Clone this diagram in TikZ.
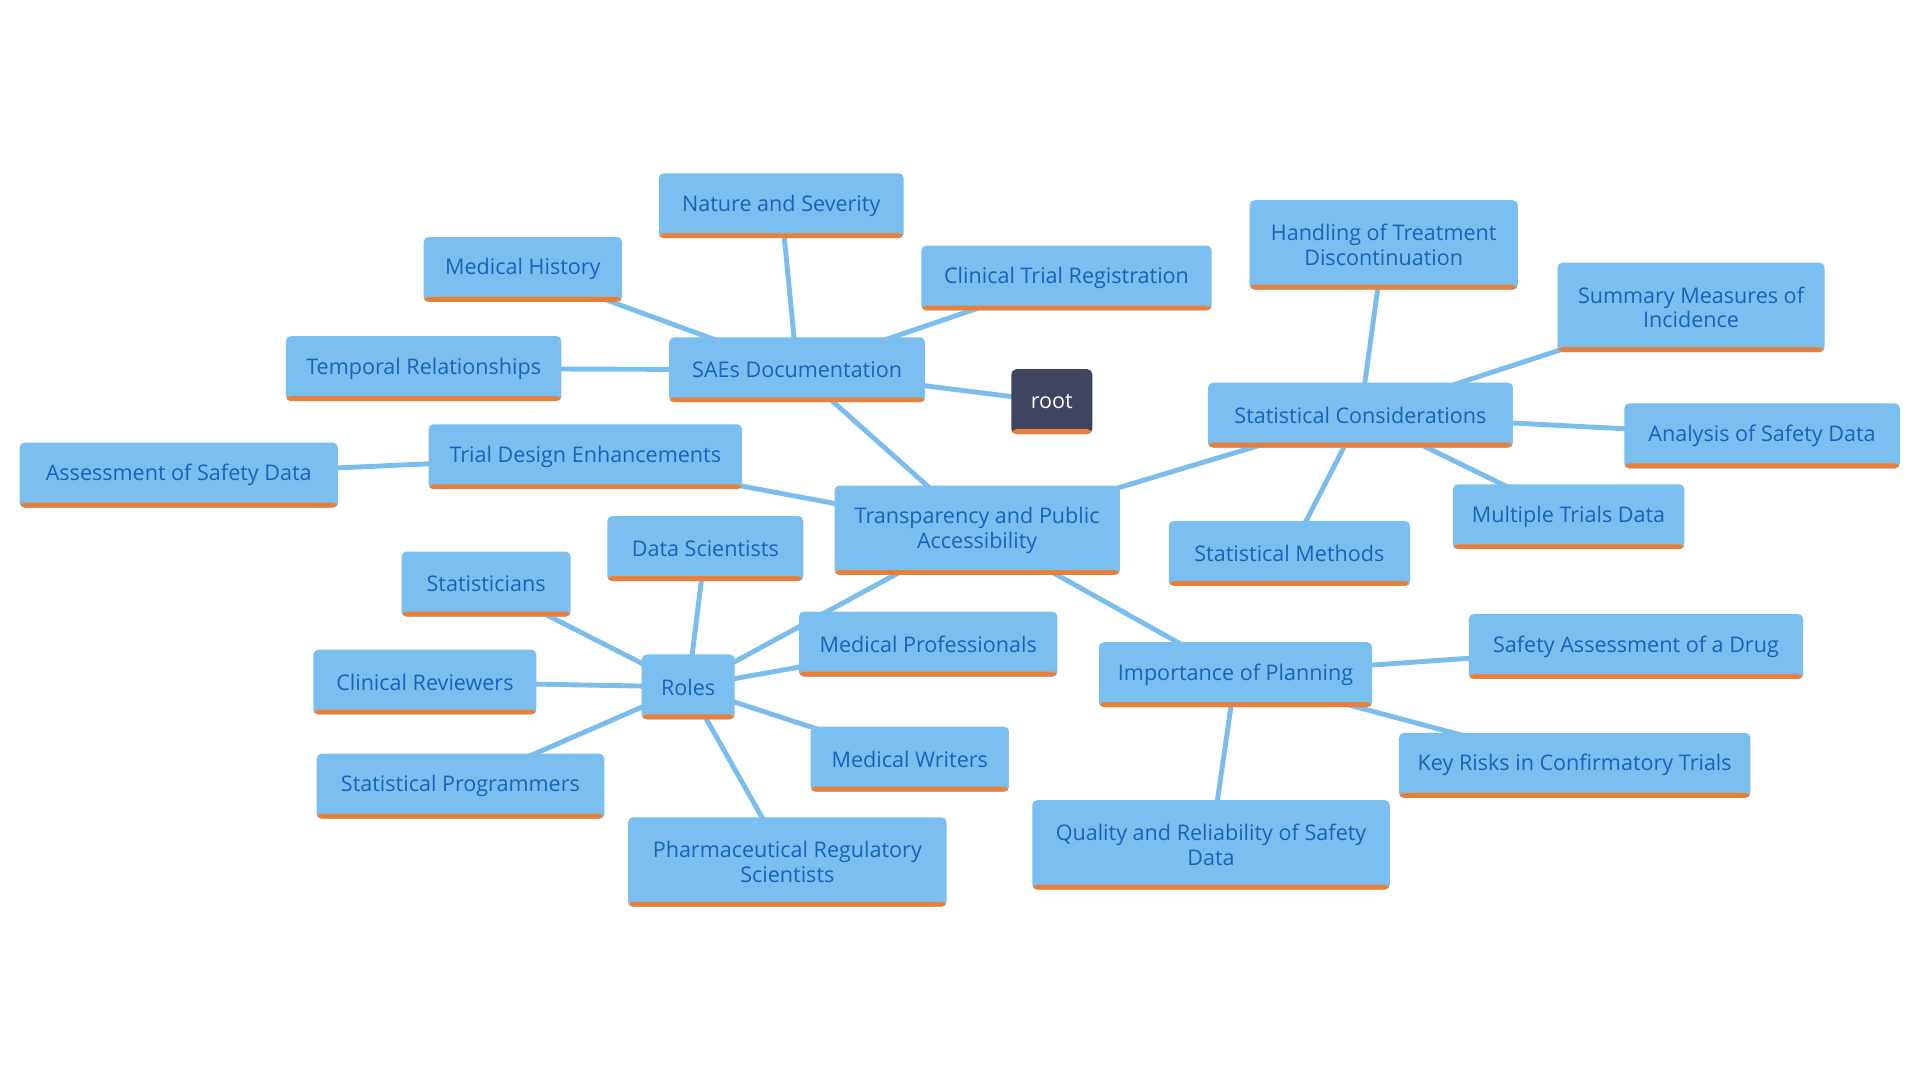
\documentclass[tikz,border=0pt]{standalone}
\usepackage{fontspec}
\setmainfont{Open Sans}
\usetikzlibrary{backgrounds}
\definecolor{boxblue}{HTML}{7BBFF0}
\definecolor{linkblue}{HTML}{7BBDEC}
\definecolor{txtblue}{HTML}{1664BC}
\definecolor{barorange}{HTML}{E8803A}
\definecolor{rootdark}{HTML}{3F4460}
\tikzset{
  box/.style={fill=boxblue, rounded corners=4pt, text=txtblue, align=center,
    font=\fontsize{17.6}{20}\selectfont, inner sep=0pt,
    path picture={\fill[barorange] (path picture bounding box.south west) rectangle ([yshift=4pt]path picture bounding box.south east);}},
  rootbox/.style={box, fill=rootdark, text=white},
  link/.style={draw=linkblue, line width=4pt},
}
\begin{document}
\begin{tikzpicture}[x=1pt,y=-1pt]
\useasboundingbox (0,0) rectangle (1568,882);
\newcommand{\bx}[7][box]{\node[#1, minimum width=#4, minimum height=#5] (#2) at (#3) {#7};}
% name, center, width, height
\bx[rootbox]{root}{859,328}{66}{53}{}{root}
\bx{sae}{651,302}{209}{53}{}{SAEs Documentation}
\bx{nat}{638,168}{200}{53}{}{Nature and Severity}
\bx{mh}{427,220}{162}{53}{}{Medical History}
\bx{ctr}{871,227}{237}{53}{}{Clinical Trial Registration}
\bx{tr}{346,301}{225}{53}{}{Temporal Relationships}
\bx{tde}{478,373}{256}{53}{}{Trial Design Enhancements}
\bx{asd}{146,388}{260}{53}{}{Assessment of Safety Data}
\bx{tpa}{798,433}{233}{73}{}{Transparency and Public\\Accessibility}
\bx{sc}{1111,339}{249}{53}{}{Statistical Considerations}
\bx{htd}{1130,200}{219}{73}{}{Handling of Treatment\\Discontinuation}
\bx{smi}{1381,251}{218}{73}{}{Summary Measures of\\Incidence}
\bx{aosd}{1439,356}{225}{53}{}{Analysis of Safety Data}
\bx{mtd}{1281,422}{189}{53}{}{Multiple Trials Data}
\bx{sm}{1053,452}{197}{53}{}{Statistical Methods}
\bx{ds}{576,448}{160}{53}{}{Data Scientists}
\bx{st}{397,477}{138}{53}{}{Statisticians}
\bx{roles}{562,561}{76}{53}{}{Roles}
\bx{mp}{758,526}{211}{53}{}{Medical Professionals}
\bx{cr}{347,557}{182}{53}{}{Clinical Reviewers}
\bx{sp}{376,642}{235}{53}{}{Statistical Programmers}
\bx{mw}{743,620}{162}{53}{}{Medical Writers}
\bx{prs}{643,704}{260}{73}{}{Pharmaceutical Regulatory\\Scientists}
\bx{iop}{1009,551}{223}{53}{}{Importance of Planning}
\bx{sad}{1336,528}{273}{53}{}{Safety Assessment of a Drug}
\bx{kr}{1286,625}{287}{53}{}{Key Risks in Confirmatory Trials}
\bx{qr}{989,690}{292}{73}{}{Quality and Reliability of Safety\\Data}
\begin{scope}[on background layer]
\draw[link] (root.center) -- (sae.center);
\draw[link] (sae.center) -- (nat.center);
\draw[link] (sae.center) -- (mh.center);
\draw[link] (sae.center) -- (ctr.center);
\draw[link] (sae.center) -- (tr.center);
\draw[link] (sae.center) -- (tpa.center);
\draw[link] (tpa.center) -- (tde.center);
\draw[link] (tde.center) -- (asd.center);
\draw[link] (tpa.center) -- (sc.center);
\draw[link] (sc.center) -- (htd.center);
\draw[link] (sc.center) -- (smi.center);
\draw[link] (sc.center) -- (aosd.center);
\draw[link] (sc.center) -- (mtd.center);
\draw[link] (sc.center) -- (sm.center);
\draw[link] (tpa.center) -- (roles.center);
\draw[link] (roles.center) -- (ds.center);
\draw[link] (roles.center) -- (st.center);
\draw[link] (roles.center) -- (mp.center);
\draw[link] (roles.center) -- (cr.center);
\draw[link] (roles.center) -- (sp.center);
\draw[link] (roles.center) -- (mw.center);
\draw[link] (roles.center) -- (prs.center);
\draw[link] (tpa.center) -- (iop.center);
\draw[link] (iop.center) -- (sad.center);
\draw[link] (iop.center) -- (kr.center);
\draw[link] (iop.center) -- (qr.center);
\end{scope}
\end{tikzpicture}
\end{document}
